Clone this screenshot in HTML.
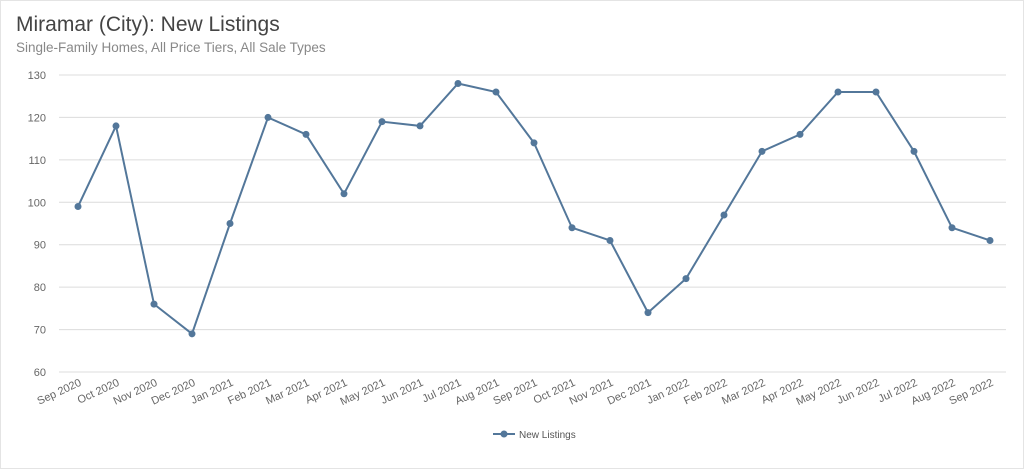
<!DOCTYPE html>
<html><head><meta charset="utf-8"><style>
body{margin:0;background:#fff;font-family:"Liberation Sans",sans-serif}
#wrap{position:relative;width:1022px;height:467px;border:1px solid #e4e4e4;overflow:hidden}
#title{position:absolute;left:15px;top:12px;font-size:21px;color:#444}
#sub{position:absolute;left:15px;top:39px;font-size:13.5px;color:#888}
svg{position:absolute;left:0;top:0}
</style></head><body>
<div id="wrap">
<div id="title">Miramar (City): New Listings</div>
<div id="sub">Single-Family Homes, All Price Tiers, All Sale Types</div>
<svg id="chart" width="1024" height="469"></svg>
</div>
<script>
const categories=["Sep 2020","Oct 2020","Nov 2020","Dec 2020","Jan 2021","Feb 2021","Mar 2021","Apr 2021","May 2021","Jun 2021","Jul 2021","Aug 2021","Sep 2021","Oct 2021","Nov 2021","Dec 2021","Jan 2022","Feb 2022","Mar 2022","Apr 2022","May 2022","Jun 2022","Jul 2022","Aug 2022","Sep 2022"];
const newListings=[99,118,76,69,95,120,116,102,119,118,128,126,114,94,91,74,82,97,112,116,126,126,112,94,91];
const yTicks=[60,70,80,90,100,110,120,130];
const svg=document.getElementById('chart');const NS='http://www.w3.org/2000/svg';
const x0=77,x1=989,y0=371,y1=74,vmin=60,vmax=130;
const xs=i=>x0+i*(x1-x0)/(categories.length-1);
const ys=v=>y0-(v-vmin)*(y0-y1)/(vmax-vmin);
function mk(t,a){const e=document.createElementNS(NS,t);for(const k in a)e.setAttribute(k,a[k]);svg.appendChild(e);return e;}
yTicks.forEach(v=>{
const g=mk('line',{x1:58,x2:1005,y1:ys(v),y2:ys(v),stroke:'#dcdcdc','stroke-width':1});


const t=mk('text',{x:45,y:ys(v)+4,'text-anchor':'end','font-size':11,fill:'#666'});t.textContent=v;


});
categories.forEach((c,i)=>{
const t=mk('text',{x:xs(i)+4,y:384,'text-anchor':'end','font-size':11,fill:'#666',transform:`rotate(-25 ${xs(i)+4} 384)`});t.textContent=c;


});
const p=mk('polyline',{points:newListings.map((v,i)=>xs(i)+','+ys(v)).join(' '),fill:'none',stroke:'#53779a','stroke-width':2});


newListings.forEach((v,i)=>{
const c=mk('circle',{cx:xs(i),cy:ys(v),r:3.5,fill:'#53779a'});


});
const lg=mk('line',{x1:492,x2:514,y1:433,y2:433,stroke:'#53779a','stroke-width':2});


const lc=mk('circle',{cx:503,cy:433,r:3.5,fill:'#53779a'});


const lt=mk('text',{x:518,y:437,'font-size':10,fill:'#555'});lt.textContent='New Listings';


</script>
</body></html>
